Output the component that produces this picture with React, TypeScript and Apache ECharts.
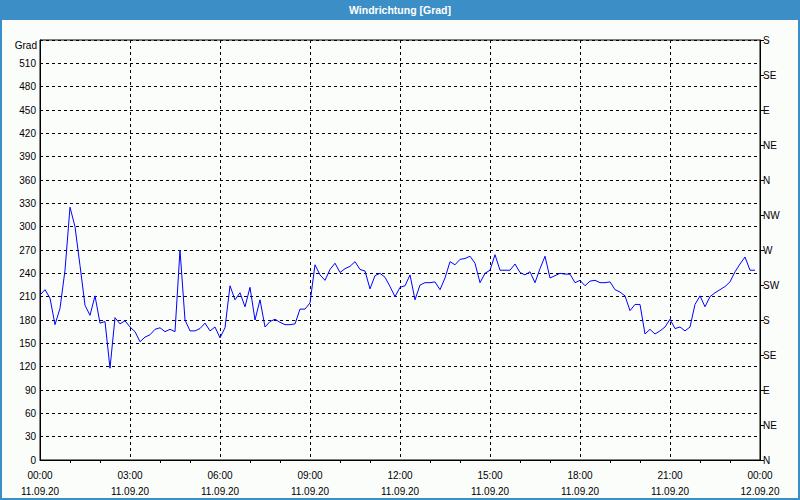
import React, { useEffect, useRef } from 'react';
import * as echarts from 'echarts';

const TITLE = 'Windrichtung [Grad]';
const UNIT = 'Grad';
const DATE_START = '11.09.20';
const DATE_END = '12.09.20';
const STEP_MINUTES = 10;

const windDirection = [
  212, 219, 208, 174, 195, 244, 325, 300, 250, 199, 186, 211, 176, 178, 118, 183,
  175, 179, 171, 165, 152, 158, 161, 168, 170, 165, 168, 165, 270, 180, 166, 166,
  169, 176, 166, 171, 157, 170, 224, 206, 215, 197, 222, 180, 206, 171, 178, 181,
  177, 174, 174, 175, 194, 194, 202, 251, 238, 231, 245, 253, 241, 246, 249, 255,
  245, 243, 220, 237, 240, 235, 223, 210, 222, 224, 238, 206, 225, 228, 228, 229,
  219, 234, 255, 251, 258, 259, 262, 253, 228, 240, 244, 264, 244, 244, 244, 252,
  241, 238, 242, 228, 246, 262, 234, 237, 240, 239, 239, 228, 231, 224, 230, 231,
  228, 228, 229, 219, 216, 211, 192, 200, 200, 162, 168, 162, 166, 171, 181, 169,
  171, 166, 171, 200, 211, 197, 210, 215, 219, 223, 229, 242, 252, 261, 244, 244,
];

const compassLabels = ['N', 'NE', 'E', 'SE', 'S', 'SW', 'W', 'NW', 'N', 'NE', 'E', 'SE', 'S'];

const FONT = '"Liberation Sans", Arial, sans-serif';
const BLUE = '#3c8fc6';

function pad(n: number) {
  return n < 10 ? '0' + n : '' + n;
}

export default function App() {
  const ref = useRef<HTMLDivElement>(null);

  useEffect(() => {
    if (!ref.current) return;
    const chart = echarts.init(ref.current, undefined, { renderer: 'svg' });
    const data = windDirection.map((v, i) => [i * STEP_MINUTES, v]);
    const dashed = { color: '#000', width: 1, type: [3, 3] as any };

    chart.setOption({
      animation: false,
      backgroundColor: '#fbfdfb',
      grid: {
        left: 40,
        right: 40,
        top: 40,
        bottom: 40,
        show: true,
        borderColor: '#000',
        borderWidth: 1,
        backgroundColor: 'transparent',
      },
      graphic: [
        { type: 'rect', shape: { x: 0, y: 0, width: 800, height: 20 }, style: { fill: BLUE } },
        {
          type: 'rect',
          shape: { x: 1, y: 1, width: 798, height: 498 },
          style: { fill: 'none', stroke: BLUE, lineWidth: 2 },
        },
        {
          type: 'text',
          x: 400,
          y: 10,
          style: {
            text: TITLE,
            fill: '#fff',
            font: 'bold 10.5px ' + FONT,
            align: 'center',
            verticalAlign: 'middle',
          },
        },
        {
          type: 'text',
          x: 37,
          y: 45,
          style: {
            text: UNIT,
            fill: '#000',
            font: '10px ' + FONT,
            align: 'right',
            verticalAlign: 'middle',
          },
        },
      ],
      xAxis: {
        type: 'value',
        min: 0,
        max: 1440,
        interval: 180,
        axisLine: { show: true, lineStyle: { color: '#000' } },
        axisTick: { show: false },
        minorTick: { show: true, splitNumber: 3, length: 3, lineStyle: { color: '#000' } },
        splitLine: { show: true, lineStyle: dashed },
        axisLabel: {
          color: '#000',
          fontFamily: FONT,
          fontSize: 10,
          lineHeight: 16,
          margin: 7,
          formatter: (v: number) => {
            const h = Math.floor(v / 60) % 24;
            const m = v % 60;
            return pad(h) + ':' + pad(m) + '\n' + (v >= 1440 ? DATE_END : DATE_START);
          },
        },
      },
      yAxis: [
        {
          type: 'value',
          min: 0,
          max: 540,
          interval: 30,
          position: 'left',
          axisLine: { show: true, lineStyle: { color: '#000' } },
          axisTick: { show: false },
          splitLine: { show: true, lineStyle: dashed },
          axisLabel: {
            color: '#000',
            fontFamily: FONT,
            fontSize: 10,
            margin: 4,
            formatter: (v: number) => (v >= 540 ? '' : String(v)),
          },
        },
        {
          type: 'value',
          min: 0,
          max: 540,
          interval: 45,
          position: 'right',
          axisLine: { show: true, lineStyle: { color: '#000' } },
          axisTick: { show: true, length: 4, lineStyle: { color: '#000' } },
          splitLine: { show: false },
          axisLabel: {
            color: '#000',
            fontFamily: FONT,
            fontSize: 10,
            margin: 3,
            formatter: (v: number) => compassLabels[Math.round(v / 45)] ?? '',
          },
        },
      ],
      series: [
        {
          type: 'line',
          data,
          yAxisIndex: 0,
          showSymbol: false,
          symbol: 'none',
          lineStyle: { color: '#0000ff', width: 1 },
          itemStyle: { color: '#0000ff' },
        },
      ],
    });

    return () => chart.dispose();
  }, []);

  return (
    <div
      ref={ref}
      style={{ position: 'fixed', left: 0, top: 0, width: 800, height: 500 }}
    />
  );
}
